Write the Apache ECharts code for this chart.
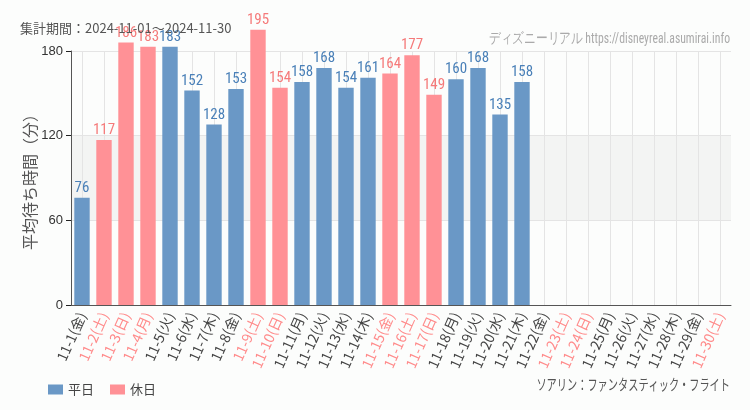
<!DOCTYPE html>
<html><head><meta charset="utf-8">
<script src="https://cdn.jsdelivr.net/npm/echarts@6/dist/echarts.min.js"></script>
<style>html,body{margin:0;padding:0;background:#fcfdfc;}#c{width:750px;height:410px;}</style>
</head><body><div id="c"></div>
<script>
const days = ['11-1(金)','11-2(土)','11-3(日)','11-4(月)','11-5(火)','11-6(水)','11-7(木)','11-8(金)','11-9(土)','11-10(日)','11-11(月)','11-12(火)','11-13(水)','11-14(木)','11-15(金)','11-16(土)','11-17(日)','11-18(月)','11-19(火)','11-20(水)','11-21(木)','11-22(金)','11-23(土)','11-24(日)','11-25(月)','11-26(火)','11-27(水)','11-28(木)','11-29(金)','11-30(土)'];
const holiday = [0,1,1,1,0,0,0,0,1,1,0,0,0,0,1,1,1,0,0,0,0,0,1,1,0,0,0,0,0,1];
const waits = [76,117,186,183,183,152,128,153,195,154,158,168,154,161,164,177,149,160,168,135,158,null,null,null,null,null,null,null,null,null];
const yTicks = [0,60,120,180];

const weekdayData = waits.map((v,i)=> holiday[i] ? null : v);
const holidayData = waits.map((v,i)=> holiday[i] ? v : null);
const narrow = '"Liberation Sans Narrow","Roboto Condensed","DejaVu Sans Condensed",sans-serif';
const jp = '"Noto Sans CJK JP",sans-serif';

const chart = echarts.init(document.getElementById('c'));
chart.setOption({
  backgroundColor: '#fcfdfc',
  animation: false,
  title: {text: '集計期間：2024-11-01～2024-11-30', left: 15, top: 17,
    textStyle: {fontSize: 13, fontWeight: 'normal', color: '#555', fontFamily: jp}},
  graphic: [
    {type: 'text', x: 730, y: 32, scaleX: 0.78, silent: true,
      style: {text: 'ディズニーリアル https://disneyreal.asumirai.info', align: 'right', verticalAlign: 'top', font: '15px ' + narrow, fill: '#aaa'}},
    {type: 'text', x: 730, y: 377, scaleX: 0.68, silent: true,
      style: {text: 'ソアリン：ファンタスティック・フライト', align: 'right', verticalAlign: 'top', font: '15px ' + jp, fill: '#555'}}
  ],
  legend: {left: 43, top: 378, itemWidth: 15, itemHeight: 10, itemGap: 16, icon: 'rect',
    textStyle: {fontSize: 13, color: '#444', fontFamily: jp},
    data: ['平日','休日']},
  grid: {left: 71, right: 19, top: 51, bottom: 105},
  xAxis: {type: 'category', data: days,
    axisLine: {lineStyle: {color: '#555'}},
    axisTick: {alignWithLabel: true, lineStyle: {color: '#222'}},
    splitLine: {show: true, alignWithLabel: true, lineStyle: {color: '#e4e4e4'}},
    axisLabel: {interval: 0, rotate: 66, fontSize: 14, fontFamily: jp, margin: 8,
      color: (val, idx) => holiday[idx] ? '#ff8a8a' : '#444'}},
  yAxis: {type: 'value', min: 0, max: 180, interval: 60,
    name: '平均待ち時間（分）', nameLocation: 'middle', nameGap: 33, nameMoveOverlap: false,
    nameTextStyle: {fontSize: 16, color: '#555', fontFamily: jp},
    axisLine: {show: true, lineStyle: {color: '#555'}},
    axisTick: {show: true, lineStyle: {color: '#222'}},
    axisLabel: {fontSize: 13, color: '#333', customValues: yTicks},
    splitLine: {lineStyle: {color: '#e4e4e4'}},
    splitArea: {show: true, areaStyle: {color: ['rgba(0,0,0,0)','#f3f4f3','rgba(0,0,0,0)']}}},
  series: [
    {name: '平日', type: 'bar', data: weekdayData, barWidth: '70%', barGap: '-100%', clip: false,
      itemStyle: {color: '#6a98c6'},
      label: {show: true, position: 'top', distance: 2, fontSize: 15, fontFamily: narrow, color: '#4a80b8'}},
    {name: '休日', type: 'bar', data: holidayData, barWidth: '70%', barGap: '-100%', clip: false,
      itemStyle: {color: '#ff9196'},
      label: {show: true, position: 'top', distance: 2, fontSize: 15, fontFamily: narrow, color: '#f57a7a'}}
  ]
});
</script></body></html>
